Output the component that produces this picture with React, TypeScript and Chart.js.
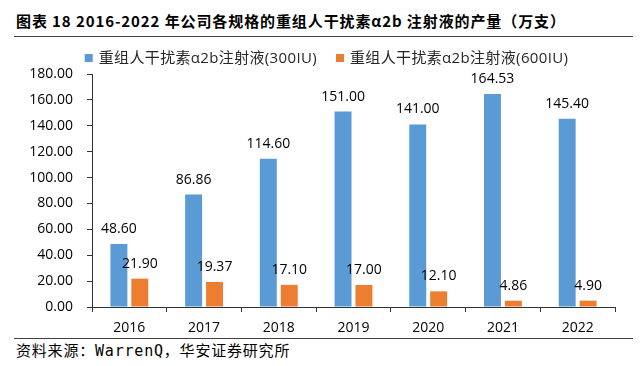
import { useEffect, useRef } from "react";
import { Chart, registerables } from "chart.js";

Chart.register(...registerables);

const years = ["2016", "2017", "2018", "2019", "2020", "2021", "2022"];
const series300 = [48.6, 86.86, 114.6, 151.0, 141.0, 164.53, 145.4];
const series600 = [21.9, 19.37, 17.1, 17.0, 12.1, 4.86, 4.9];
const seriesNames = ["重组人干扰素α2b注射液(300IU)", "重组人干扰素α2b注射液(600IU)"];
const seriesColors = ["#5B9BD5", "#ED7D31"];
const yMax = 180;
const yStep = 20;
const titleText = "图表 18 2016-2022 年公司各规格的重组人干扰素α2b 注射液的产量（万支）";
const sourceText = "资料来源：WarrenQ，华安证券研究所";

const LATIN = "'Open Sans', 'Noto Sans CJK SC', sans-serif";

const valueLabelPlugin = {
  id: "valueLabels",
  afterDatasetsDraw(chart: any) {
    const ctx = chart.ctx;
    ctx.save();
    ctx.font = `14px ${LATIN}`;
    ctx.fillStyle = "#000";
    ctx.textAlign = "center";
    ctx.textBaseline = "alphabetic";
    chart.data.datasets.forEach((ds: any, i: number) => {
      const meta = chart.getDatasetMeta(i);
      meta.data.forEach((el: any, j: number) => {
        const v = ds.data[j] as number;
        ctx.fillText(v.toFixed(2), el.x, el.y - 11);
      });
    });
    ctx.restore();
  },
};

const legendPlugin = {
  id: "topLegend",
  afterDraw(chart: any) {
    const ctx = chart.ctx;
    ctx.save();
    ctx.font = `15px ${LATIN}`;
    try {
      (ctx as any).letterSpacing = "0.35px";
    } catch (e) {}
    const box = 8;
    const textGap = 6;
    const itemGap = 19;
    const items = chart.data.datasets.map((ds: any) => ({
      label: ds.label as string,
      color: ds.backgroundColor as string,
      w: box + textGap + ctx.measureText(ds.label).width,
    }));
    const total =
      items.reduce((s: number, it: any) => s + it.w, 0) + itemGap * (items.length - 1);
    let x = chart.width / 2 + 6.5 - total / 2;
    const y = 18;
    ctx.textBaseline = "middle";
    ctx.textAlign = "left";
    items.forEach((it: any) => {
      ctx.fillStyle = it.color;
      ctx.fillRect(x, y - box / 2, box, box);
      ctx.fillStyle = "#262626";
      ctx.fillText(it.label, x + box + textGap, y + 1);
      x += it.w + itemGap;
    });
    ctx.restore();
  },
};

export default function App() {
  const canvasRef = useRef<HTMLCanvasElement | null>(null);

  useEffect(() => {
    document.body.style.margin = "0";
    if (!canvasRef.current) return;
    const chart = new Chart(canvasRef.current, {
      type: "bar",
      data: {
        labels: years,
        datasets: [
          {
            label: seriesNames[0],
            data: series300,
            backgroundColor: seriesColors[0],
            categoryPercentage: 0.56,
            barPercentage: 0.81,
          },
          {
            label: seriesNames[1],
            data: series600,
            backgroundColor: seriesColors[1],
            categoryPercentage: 0.56,
            barPercentage: 0.81,
          },
        ],
      },
      options: {
        animation: false,
        responsive: false,
        maintainAspectRatio: false,
        layout: { padding: { left: 0, right: 25, top: 34, bottom: 0 } },
        plugins: {
          legend: { display: false },
          tooltip: { enabled: false },
        },
        scales: {
          x: {
            afterFit: (scale: any) => {
              scale.height = 31;
            },
            grid: {
              display: true,
              drawOnChartArea: false,
              drawTicks: true,
              tickLength: 5,
              color: "#333",
              offset: true,
            },
            border: { display: true, color: "#333", width: 1 },
            ticks: {
              color: "#000",
              font: { family: LATIN, size: 14 },
              padding: 8,
            },
          },
          y: {
            min: 0,
            max: yMax,
            afterFit: (scale: any) => {
              scale.width = 92;
            },
            grid: {
              display: true,
              drawOnChartArea: false,
              drawTicks: true,
              tickLength: 5,
              color: "#333",
            },
            border: { display: true, color: "#333", width: 1 },
            ticks: {
              stepSize: yStep,
              color: "#000",
              font: { family: LATIN, size: 14 },
              padding: 14,
              callback: (v: any) => Number(v).toFixed(2),
            },
          },
        },
      },
      plugins: [valueLabelPlugin, legendPlugin],
    });
    return () => chart.destroy();
  }, []);

  return (
    <div
      style={{
        position: "absolute",
        left: 0,
        top: 0,
        width: 640,
        height: 366,
        background: "#fff",
        overflow: "hidden",
      }}
    >
      <div
        style={{
          position: "absolute",
          left: 16,
          top: 11,
          font: "bold 15px 'Noto Sans CJK SC', sans-serif",
          letterSpacing: "0.9px",
          lineHeight: "20px",
          color: "#000",
          whiteSpace: "nowrap",
        }}
      >
        {titleText}
      </div>
      <div
        style={{
          position: "absolute",
          left: 14,
          top: 36,
          width: 619,
          height: 0,
          borderTop: "1.5px solid #404040",
        }}
      />
      <canvas
        ref={canvasRef}
        width={640}
        height={298}
        style={{ position: "absolute", left: 0, top: 40, width: 640, height: 298 }}
      />
      <div
        style={{
          position: "absolute",
          left: 14,
          top: 338,
          width: 619,
          height: 0,
          borderTop: "1.5px solid #404040",
        }}
      />
      <div
        style={{
          position: "absolute",
          left: 16,
          top: 341,
          font: "15px 'DejaVu Sans Mono', 'Noto Sans CJK SC', monospace",
          letterSpacing: "0.8px",
          lineHeight: "20px",
          color: "#000",
          whiteSpace: "nowrap",
        }}
      >
        {sourceText}
      </div>
    </div>
  );
}
